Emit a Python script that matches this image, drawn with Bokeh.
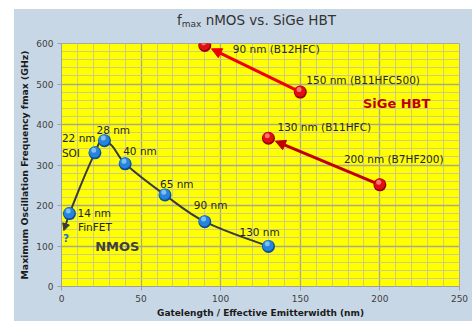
import numpy as np
from bokeh.plotting import figure
from bokeh.layouts import column
from bokeh.models import (Range1d, SingleIntervalTicker, Label, Arrow, NormalHead,
                          ColumnDataSource, Div)
from bokeh.core.properties import value
from bokeh.embed import file_html
from bokeh.resources import INLINE

# ---------------- data ----------------
nmos_nodes = ["14 nm", "22 nm", "28 nm", "40 nm", "65 nm", "90 nm", "130 nm"]
nmos_gate = [5, 21, 27, 40, 65, 90, 130]
nmos_fmax = [180, 330, 360, 303, 226, 160, 99]
nmos_future_gate = 1.5     # "?" arrow tip
nmos_future_fmax = 138

sige_nodes = ["90 nm (B12HFC)", "150 nm (B11HFC500)", "130 nm (B11HFC)", "200 nm (B7HF200)"]
sige_width = [90, 150, 130, 200]
sige_fmax = [595, 480, 366, 251]
sige_arrows = [(1, 0), (3, 2)]   # from index -> to index

x_ticks_max = 250
y_ticks_max = 600

# ---------------- layout / style ----------------
W, H = 458, 290
BL, BR, BT, BB = 47, 13, 12, 35
FW, FH = W - BL - BR, H - BT - BB
SX = FW / x_ticks_max
SY = FH / y_ticks_max
FONT = "DejaVu Sans"
BG = "#c8d7e6"
TXT = "#262626"

p = figure(width=W, height=H, output_backend="svg", toolbar_location=None,
           x_range=Range1d(0, x_ticks_max), y_range=Range1d(0, y_ticks_max),
           min_border_left=BL, min_border_right=BR, min_border_top=BT,
           min_border_bottom=BB)
p.margin = 0
p.background_fill_color = "#ffff00"
p.border_fill_color = BG
p.outline_line_color = "#a8a8a8"

p.xaxis.ticker = SingleIntervalTicker(interval=50, num_minor_ticks=5)
p.yaxis.ticker = SingleIntervalTicker(interval=100, num_minor_ticks=5)
for ax in (p.xaxis, p.yaxis):
    ax.axis_line_color = "#a0a0a0"
    ax.major_tick_line_color = "#a0a0a0"
    ax.major_tick_in = 0
    ax.major_tick_out = 4
    ax.minor_tick_line_color = None
    ax.major_label_text_font = FONT
    ax.major_label_text_font_size = "9px"
    ax.major_label_text_color = "#404040"
    ax.major_label_standoff = 4
    ax.axis_label_text_font = FONT
    ax.axis_label_text_font_style = "bold"
    ax.axis_label_text_color = "#1a1a1a"
    ax.axis_label_standoff = 3
p.xaxis.axis_label = "Gatelength / Effective Emitterwidth (nm)"
p.xaxis.axis_label_text_font_size = "9px"
p.yaxis.axis_label = "Maximum Oscillation Frequency fmax (GHz)"
p.yaxis.axis_label_text_font_size = "9.3px"

for g in (p.xgrid, p.ygrid):
    g.grid_line_color = "#aaa98a"
    g.grid_line_width = 1.3
    g.minor_grid_line_color = "#cccb88"
    g.minor_grid_line_width = 1

# ---------------- NMOS smooth curve ----------------
px = [v * SX for v in nmos_gate][::-1] + [nmos_future_gate * SX]
py = [v * SY for v in nmos_fmax][::-1] + [nmos_future_fmax * SY]
P = np.array(list(zip(px, py)), dtype=float)
n = len(P)
T = np.zeros_like(P)
for i in range(n):
    a = P[max(i - 1, 0)]
    b = P[min(i + 1, n - 1)]
    d = b - a
    T[i] = d / np.hypot(*d)
x0, y0, x1, y1, cx0, cy0, cx1, cy1 = ([] for _ in range(8))
for i in range(n - 1):
    L = np.hypot(*(P[i + 1] - P[i]))
    c0 = P[i] + T[i] * L * 0.38
    c1 = P[i + 1] - T[i + 1] * L * 0.38
    end = P[i + 1]
    if i == n - 2:
        end = P[i + 1] - T[i + 1] * 4.0
    x0.append(P[i][0] / SX); y0.append(P[i][1] / SY)
    x1.append(end[0] / SX); y1.append(end[1] / SY)
    cx0.append(c0[0] / SX); cy0.append(c0[1] / SY)
    cx1.append(c1[0] / SX); cy1.append(c1[1] / SY)
p.bezier(x0=x0, y0=y0, x1=x1, y1=y1, cx0=cx0, cy0=cy0, cx1=cx1, cy1=cy1,
         line_color="#3a3a3a", line_width=2)
tail = P[-1] - T[-1] * 8.0
p.add_layout(Arrow(end=NormalHead(size=7, fill_color="#3a3a3a", line_color="#3a3a3a"),
                   x_start=tail[0] / SX, y_start=tail[1] / SY,
                   x_end=nmos_future_gate, y_end=nmos_future_fmax,
                   line_alpha=0.0))

# ---------------- SiGe arrows ----------------
arrow_colors = ["#f00000", "#c00000"]
for (a, b), col in zip(sige_arrows, arrow_colors):
    dx = (sige_width[a] - sige_width[b]) * SX
    dy = (sige_fmax[a] - sige_fmax[b]) * SY
    L = np.hypot(dx, dy)
    ex = sige_width[b] + dx / L * 7.5 / SX
    ey = sige_fmax[b] + dy / L * 7.5 / SY
    sx0 = sige_width[a] - dx / L * 5 / SX
    sy0 = sige_fmax[a] - dy / L * 5 / SY
    p.add_layout(Arrow(end=NormalHead(size=10, fill_color=col, line_color=col),
                       x_start=sx0, y_start=sy0, x_end=ex, y_end=ey,
                       line_color=col, line_width=3))

# ---------------- spheres ----------------
def spheres(xs, ys, dark, mid, light):
    xs = np.asarray(xs, float); ys = np.asarray(ys, float)
    p.scatter(xs, ys, size=13, fill_color=dark, line_color=None)
    p.scatter(xs - 0.4 / SX, ys + 0.8 / SY, size=11, fill_color=mid, line_color=None)
    p.scatter(xs - 1.2 / SX, ys + 2.6 / SY, size=5, fill_color=light, line_color=None,
              fill_alpha=0.75)

spheres(nmos_gate, nmos_fmax, "#0b4f9c", "#2584dc", "#9fd2ff")
spheres(sige_width, sige_fmax, "#9a0000", "#e01010", "#ff9a9a")

# ---------------- data labels ----------------
nmos_dx = [8, -33, -8, -2, -5, -11, -29]
nmos_dy = [-1, -15, -11, -13, -11, -17, -14]
src = ColumnDataSource(dict(x=nmos_gate, y=nmos_fmax, t=nmos_nodes, dx=nmos_dx, dy=nmos_dy))
p.text(x="x", y="y", text="t", x_offset="dx", y_offset="dy", source=src,
       text_font=value(FONT), text_font_size="10.5px", text_color=TXT,
       text_baseline="middle", text_align="left")

sige_dx = [28, 6, 9, -36]
sige_dy = [3, -12, -11, -26]
src2 = ColumnDataSource(dict(x=sige_width, y=sige_fmax, t=sige_nodes, dx=sige_dx, dy=sige_dy))
p.text(x="x", y="y", text="t", x_offset="dx", y_offset="dy", source=src2,
       text_font=value(FONT), text_font_size="10.5px", text_color=TXT,
       text_baseline="middle", text_align="left")

def lab(text, x, y, size, color=TXT, bold=False, **kw):
    p.add_layout(Label(x=x, y=y, x_units="screen", y_units="screen", text=text,
                       text_font=FONT, text_font_size=size, text_color=color,
                       text_font_style="bold" if bold else "normal", **kw))

lab("SOI", 0.4, 134, "10.5px", text_baseline="middle")
lab("FinFET", 16.4, 60, "10.5px", text_baseline="middle")
lab("?", 1.4, 48.7, "10.5px", color="#1f6fc0", bold=True, text_baseline="middle")
lab("NMOS", 33.7, 40.3, "13px", color="#404040", bold=True, text_baseline="middle")
lab("SiGe HBT", 301.4, 183.3, "13px", color="#c00000", bold=True, text_baseline="middle")

# ---------------- title ----------------
title = Div(
    text=('<div style="font-family:\'DejaVu Sans\'; font-size:13.5px; color:#333333; '
          'line-height:16px; padding-top:3px; padding-left:163px; white-space:nowrap;">'
          'f<span style="font-size:9px; position:relative; top:2px;">max</span>'
          ' nMOS vs. SiGe HBT</div>'),
    width=W, height=22, margin=0, styles={"background-color": BG})

layout = column(title, p, spacing=0, margin=(9, 0, 0, 14),
                styles={"background-color": BG})

open("out.html", "w").write(file_html(layout, INLINE))
